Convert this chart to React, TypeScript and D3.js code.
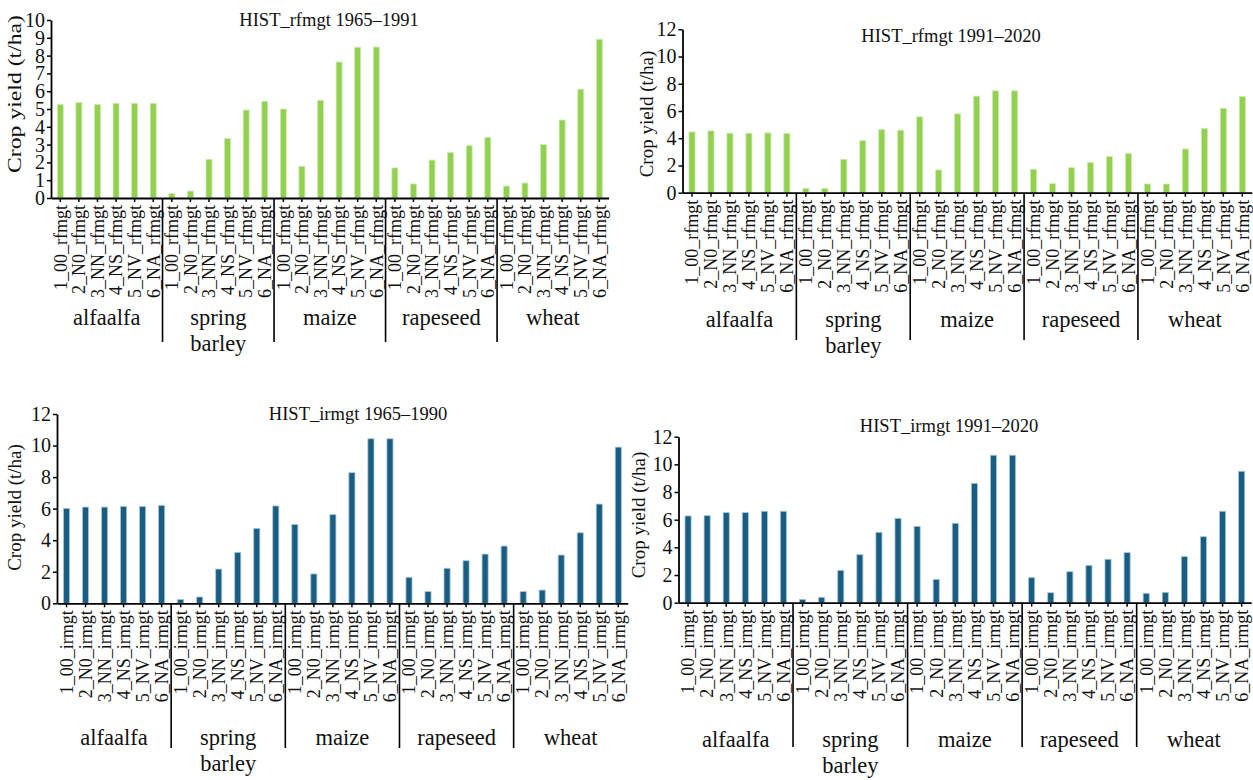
import { useEffect, useRef } from 'react';
import * as d3 from 'd3';

const crops = ['alfaalfa', 'spring barley', 'maize', 'rapeseed', 'wheat'];
const scenarios = ['1_00', '2_N0', '3_NN', '4_NS', '5_NV', '6_NA'];

// yields (t/ha), 6 scenarios per crop, in crop order
const rfmgt6591 = [
  5.25, 5.36, 5.26, 5.32, 5.32, 5.32,
  0.25, 0.39, 2.17, 3.34, 4.94, 5.43,
  5.0, 1.77, 5.49, 7.64, 8.47, 8.48,
  1.69, 0.79, 2.13, 2.55, 2.94, 3.41,
  0.67, 0.84, 3.0, 4.38, 6.11, 8.92,
];
const rfmgt9120 = [
  4.46, 4.54, 4.37, 4.37, 4.39, 4.34,
  0.32, 0.32, 2.45, 3.82, 4.63, 4.59,
  5.57, 1.67, 5.79, 7.09, 7.48, 7.48,
  1.72, 0.66, 1.84, 2.21, 2.65, 2.87,
  0.64, 0.64, 3.21, 4.71, 6.2, 7.06,
];
const irmgt6590 = [
  6.02, 6.1, 6.1, 6.14, 6.14, 6.2,
  0.25, 0.4, 2.17, 3.23, 4.75, 6.17,
  5.0, 1.86, 5.62, 8.28, 10.43, 10.43,
  1.65, 0.74, 2.22, 2.7, 3.12, 3.63,
  0.74, 0.84, 3.06, 4.47, 6.29, 9.9,
];
const irmgt9120 = [
  6.27, 6.29, 6.51, 6.51, 6.61, 6.61,
  0.24, 0.39, 2.34, 3.47, 5.09, 6.1,
  5.52, 1.69, 5.74, 8.63, 10.66, 10.66,
  1.81, 0.72, 2.24, 2.7, 3.14, 3.62,
  0.68, 0.75, 3.33, 4.77, 6.61, 9.5,
];

const GREEN = '#92d050';
const BLUE = '#195e82';
const FONT = '"Liberation Serif", "Times New Roman", serif';

const panels = [
  { title: 'HIST_rfmgt 1965–1991', mgt: 'rfmgt', values: rfmgt6591, fill: GREEN, edge: '#cdeab0',
    x0: 51, x1: 608.6, top: 20, base: 198, max: 10, step: 1,
    titleX: 329, titleY: 26, labX: 15.5, labY: 94, labLen: 158, catY: 325, divEnd: 342 },
  { title: 'HIST_rfmgt 1991–2020', mgt: 'rfmgt', values: rfmgt9120, fill: GREEN, edge: '#cdeab0',
    x0: 682.5, x1: 1251.8, top: 29.3, base: 192.7, max: 12, step: 2,
    titleX: 951, titleY: 41.5, labX: 647, labY: 114, labLen: 0, catY: 327, divEnd: 340 },
  { title: 'HIST_irmgt 1965–1990', mgt: 'irmgt', values: irmgt6590, fill: BLUE, edge: '#a9c6d6',
    x0: 57, x1: 627.8, top: 414, base: 603.3, max: 12, step: 2,
    titleX: 358, titleY: 420, labX: 15.5, labY: 507.5, labLen: 0, catY: 745, divEnd: 748 },
  { title: 'HIST_irmgt 1991–2020', mgt: 'irmgt', values: irmgt9120, fill: BLUE, edge: '#a9c6d6',
    x0: 678.5, x1: 1251.2, top: 436.7, base: 602.7, max: 12, step: 2,
    titleX: 949, titleY: 432, labX: 639, labY: 515, labLen: 0, catY: 747, divEnd: 747 },
];

const App = () => {
  const svgRef = useRef<SVGSVGElement>(null);

  useEffect(() => {
    if (!svgRef.current) return;
    const svg = d3.select(svgRef.current);
    svg.selectAll('*').remove();

    const cats = d3.cross(crops, scenarios).map(([c, s]) => `${c}|${s}`);

    panels.forEach(p => {
      const g = svg.append('g').style('font-family', FONT);

      const x = d3.scaleBand()
        .domain(cats)
        .range([p.x0, p.x1])
        .paddingInner(0.68)
        .paddingOuter(0.34);

      const y = d3.scaleLinear()
        .domain([0, p.max])
        .range([p.base, p.top]);

      g.selectAll('rect')
        .data(p.values)
        .join('rect')
        .attr('x', (d, i) => x(cats[i]))
        .attr('y', d => y(d))
        .attr('width', x.bandwidth())
        .attr('height', d => y(0) - y(d))
        .attr('fill', p.fill)
        .attr('stroke', p.edge)
        .attr('stroke-width', 0.8);

      // y axis
      const ya = g.append('g')
        .attr('transform', `translate(${p.x0},0)`)
        .call(d3.axisLeft(y)
          .tickValues(d3.range(0, p.max + 0.001, p.step))
          .tickFormat(d3.format('d'))
          .tickSize(4)
          .tickSizeOuter(0)
          .tickPadding(2));
      ya.select('.domain').attr('stroke-width', 1.8);
      ya.selectAll('line').attr('stroke-width', 1.5);
      ya.selectAll('text')
        .style('font-family', FONT)
        .style('font-size', '20px')
        .attr('fill', '#111');

      // x axis
      const xa = g.append('g')
        .attr('transform', `translate(0,${p.base})`)
        .call(d3.axisBottom(x)
          .tickFormat(d => `${d.split('|')[1]}_${p.mgt}`)
          .tickSize(4)
          .tickSizeOuter(0));
      xa.select('.domain').attr('stroke-width', 1.8);
      xa.selectAll('line').attr('stroke-width', 1.5);
      xa.selectAll('text')
        .attr('transform', 'rotate(-90)')
        .attr('text-anchor', 'end')
        .attr('x', -7)
        .attr('y', 0)
        .attr('dy', '0.35em')
        .style('font-family', FONT)
        .style('font-size', '18px')
        .attr('fill', '#111');

      // group dividers
      const gap = (x.step() - x.bandwidth()) / 2;
      d3.range(1, crops.length).forEach(k => {
        const xd = x(cats[k * scenarios.length]) - gap;
        g.append('line')
          .attr('x1', xd).attr('x2', xd)
          .attr('y1', p.base).attr('y2', p.divEnd)
          .attr('stroke', '#000')
          .attr('stroke-width', 1.6);
      });

      // crop labels
      crops.forEach((c, k) => {
        const first = x(cats[k * scenarios.length]);
        const last = x(cats[k * scenarios.length + scenarios.length - 1]) + x.bandwidth();
        const t = g.append('text')
          .attr('x', (first + last) / 2)
          .attr('y', p.catY)
          .attr('text-anchor', 'middle')
          .style('font-size', '22.5px')
          .attr('fill', '#111');
        c.split(' ').forEach((w, j) => {
          t.append('tspan')
            .attr('x', (first + last) / 2)
            .attr('dy', j === 0 ? 0 : 26)
            .text(w);
        });
      });

      // title
      g.append('text')
        .attr('x', p.titleX)
        .attr('y', p.titleY)
        .attr('text-anchor', 'middle')
        .style('font-size', '18.5px')
        .attr('fill', '#111')
        .text(p.title);

      // y label
      const yl = g.append('text')
        .attr('transform', `translate(${p.labX},${p.labY}) rotate(-90)`)
        .attr('text-anchor', 'middle')
        .attr('dy', '0.3em')
        .style('font-size', '19px')
        .attr('fill', '#111')
        .text('Crop yield (t/ha)');
      if (p.labLen) {
        yl.attr('textLength', p.labLen).attr('lengthAdjust', 'spacingAndGlyphs');
      }
    });
  }, []);

  return (
    <div style={{ position: 'absolute', left: 0, top: 0 }}>
      <svg ref={svgRef} width={1253} height={780} style={{ display: 'block', background: '#fff' }}></svg>
    </div>
  );
};

export default App;
